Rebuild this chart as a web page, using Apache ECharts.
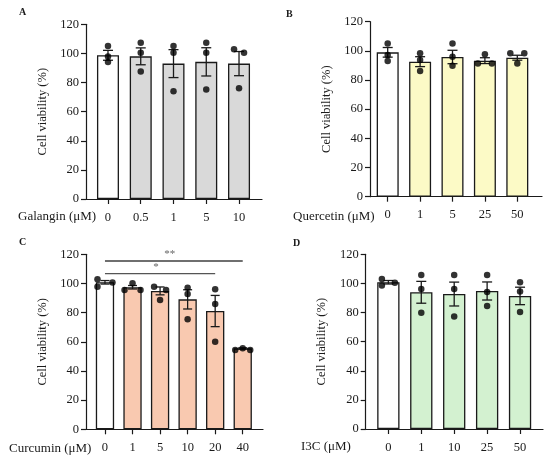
<!DOCTYPE html>
<html>
<head>
<meta charset="utf-8">
<title>Cell viability</title>
<script src="https://cdn.jsdelivr.net/npm/echarts@6/dist/echarts.min.js"></script>
<style>
html, body { margin: 0; padding: 0; background: #fff; }
#main { width: 550px; height: 465px; }
</style>
</head>
<body>
<div id="main"></div>
<script>
// A: Galangin
var galanginDoses = ['0', '0.5', '1', '5', '10'];
var galanginMean = [98.7, 98.0, 93.0, 94.2, 93.0];
var galanginSem = [3.4, 5.8, 9.6, 9.7, 8.3];
var galanginDots = [[105.1, 97.8, 94.1], [107.4, 100.5, 87.5], [105.1, 100.5, 74.0], [107.4, 100.5, 75.3], [102.8, 100.5, 76.0]];

// B: Quercetin
var quercetinDoses = ['0', '1', '5', '25', '50'];
var quercetinMean = [99.0, 92.6, 95.8, 93.3, 95.3];
var quercetinSem = [3.3, 3.4, 4.6, 2.0, 1.7];
var quercetinDots = [[105.1, 97.1, 93.0], [98.3, 93.7, 86.2], [105.1, 96.0, 89.8], [97.6, 91.4, 91.4], [98.3, 98.3, 91.4]];

// C: Curcumin
var curcuminDoses = ['0', '1', '5', '10', '20', '40'];
var curcuminMean = [100.8, 97.4, 94.9, 89.1, 81.1, 55.5];
var curcuminSem = [1.2, 1.2, 2.7, 6.6, 10.7, 0.4];
var curcuminDots = [[102.9, 97.8, 100.6], [100.1, 95.5, 95.5], [97.8, 95.5, 88.7], [97.1, 92.8, 75.4], [96.0, 86.0, 60.1], [54.4, 55.5, 54.4]];
var curcuminSigFrom = [0, 0];
var curcuminSigTo = [5, 4];
var curcuminSigY = [115.4, 106.7];
var curcuminSigText = ['**', '*'];

// D: I3C
var i3cDoses = ['0', '1', '10', '25', '50'];
var i3cMean = [100.8, 93.9, 92.7, 94.8, 91.4];
var i3cSem = [1.2, 7.5, 8.2, 6.2, 6.0];
var i3cDots = [[103.0, 98.5, 100.5], [105.8, 96.2, 79.9], [105.8, 96.2, 77.2], [105.8, 94.1, 84.5], [100.8, 94.4, 80.4]];

var yMin = 0, yMax = 120, yStep = 20;

// horizontal spread of overlapping dots (px)
var galanginJitter = [[0, 0, 0], [0, 0, 0], [0, 0, 0], [0, 0, 0], [-5, 5, 0]];
var quercetinJitter = [[0, 0, 0], [0, 0, 0], [0, 0, 0], [0, -7, 7], [-7, 7, 0]];
var curcuminJitter = [[-7.5, -7.5, 7.5], [0, -8, 8], [-6, 6, 0], [0, 0, 0], [0, 0, 0], [-7.5, 0, 7.5]];
var i3cJitter = [[-6.5, -6.5, 6.5], [0, 0, 0], [0, 0, 0], [0, 0, 0], [0, 0, 0]];

var FONT = "'Liberation Serif', 'DejaVu Serif', serif";
var INK = '#1a1a1a';

var panels = [
  { letter: 'A', lx: 19, ly: 13, xname: 'Galangin (\u03bcM)', nx: 18, ny: 218,
    frame: { left: 86, top: 24.3, width: 176, height: 174.7 },
    data: { left: 91.6, width: 163.8 }, barW: 22, cap: 10, fill: '#d9d9d9',
    doses: galanginDoses, mean: galanginMean, sem: galanginSem, dots: galanginDots, jitter: galanginJitter },
  { letter: 'B', lx: 286, ly: 15, xname: 'Quercetin (\u03bcM)', nx: 293, ny: 218,
    frame: { left: 370, top: 21.7, width: 172, height: 175 },
    data: { left: 371.5, width: 162 }, barW: 22, cap: 10, fill: '#fcfac6',
    doses: quercetinDoses, mean: quercetinMean, sem: quercetinSem, dots: quercetinDots, jitter: quercetinJitter },
  { letter: 'C', lx: 19, ly: 243, xname: 'Curcumin (\u03bcM)', nx: 9, ny: 450,
    frame: { left: 86, top: 254.3, width: 177, height: 175 },
    data: { left: 91.2, width: 165.3 }, barW: 18.3, cap: 9, fill: '#f9c9b0',
    doses: curcuminDoses, mean: curcuminMean, sem: curcuminSem, dots: curcuminDots, jitter: curcuminJitter,
    sig: true },
  { letter: 'D', lx: 293, ly: 244, xname: 'I3C (\u03bcM)', nx: 301, ny: 448,
    frame: { left: 365.7, top: 254.3, width: 177.3, height: 174.7 },
    data: { left: 371.9, width: 164.6 }, barW: 22.3, cap: 10, fill: '#d3f1d0',
    doses: i3cDoses, mean: i3cMean, sem: i3cSem, dots: i3cDots, jitter: i3cJitter }
];

var grid = [], xAxis = [], yAxis = [], series = [], graphic = [];

// 误差线 mean ± SEM
function errorBars(cap) {
  return function (params, api) {
    var x = api.value(0);
    var lo = api.coord([x, api.value(1)]);
    var hi = api.coord([x, api.value(2)]);
    var st = { stroke: INK, lineWidth: 1.3 };
    return { type: 'group', children: [
      { type: 'line', shape: { x1: lo[0], y1: lo[1], x2: hi[0], y2: hi[1] }, style: st },
      { type: 'line', shape: { x1: hi[0] - cap / 2, y1: hi[1], x2: hi[0] + cap / 2, y2: hi[1] }, style: st },
      { type: 'line', shape: { x1: lo[0] - cap / 2, y1: lo[1], x2: lo[0] + cap / 2, y2: lo[1] }, style: st }
    ] };
  };
}

// 显著性标记
function sigRender(params, api) {
  var i = params.dataIndex;
  var a = api.coord([api.value(0), api.value(2)]);
  var b = api.coord([api.value(1), api.value(2)]);
  var bold = curcuminSigText[i].length > 1;
  return { type: 'group', children: [
    { type: 'line', shape: { x1: a[0], y1: a[1], x2: b[0], y2: b[1] },
      style: { stroke: bold ? '#6f6f6f' : '#555', lineWidth: bold ? 2 : 1.3 } },
    { type: 'text', x: (a[0] + b[0]) / 2 - 4, y: a[1] - 1,
      style: { text: curcuminSigText[i], align: 'center', verticalAlign: 'bottom',
               fill: '#666', font: '11px ' + FONT } }
  ] };
}

panels.forEach(function (p) {
  var fi = grid.length;
  // frame grid: axis lines + y ticks
  grid.push({ left: p.frame.left, top: p.frame.top, width: p.frame.width, height: p.frame.height });
  xAxis.push({ gridIndex: fi, type: 'value', min: 0, max: 1,
    axisLine: { show: true, onZero: false, lineStyle: { color: INK, width: 1.2 } },
    axisTick: { show: false }, axisLabel: { show: false }, splitLine: { show: false } });
  yAxis.push({ gridIndex: fi, type: 'value', min: yMin, max: yMax, interval: yStep,
    name: 'Cell viability (%)', nameLocation: 'middle', nameGap: 37,
    nameTextStyle: { fontFamily: FONT, fontSize: 12.5, color: INK },
    axisLine: { show: true, lineStyle: { color: INK, width: 1.2 } },
    axisTick: { show: true, length: 5, lineStyle: { color: INK, width: 1.2 } },
    axisLabel: { margin: 7, fontFamily: FONT, fontSize: 12.5, color: INK },
    splitLine: { show: false } });

  // data grid
  var di = grid.length;
  grid.push({ left: p.data.left, top: p.frame.top, width: p.data.width, height: p.frame.height });
  xAxis.push({ gridIndex: di, type: 'category', data: p.doses,
    axisLine: { show: false },
    axisTick: { show: true, alignWithLabel: true, length: 5, lineStyle: { color: INK, width: 1.2 } },
    axisLabel: { margin: 12, fontFamily: FONT, fontSize: 12.5, color: INK } });
  yAxis.push({ gridIndex: di, type: 'value', min: yMin, max: yMax, show: false });

  var barData = p.mean.map(function (m, i) {
    return { value: m, itemStyle: { color: i === 0 ? '#ffffff' : p.fill } };
  });
  series.push({ type: 'bar', xAxisIndex: di, yAxisIndex: di, barWidth: p.barW, data: barData,
    itemStyle: { borderColor: INK, borderWidth: 1.3 }, z: 2, silent: true });

  var errData = p.mean.map(function (m, i) { return [i, m - p.sem[i], m + p.sem[i]]; });
  series.push({ type: 'custom', xAxisIndex: di, yAxisIndex: di, data: errData,
    encode: { x: 0, y: [1, 2] }, renderItem: errorBars(p.cap), z: 3, silent: true });

  var dotData = [];
  p.dots.forEach(function (vals, i) {
    vals.forEach(function (v, k) {
      dotData.push({ value: [i, v], symbolOffset: [p.jitter[i][k], 0] });
    });
  });
  series.push({ type: 'scatter', xAxisIndex: di, yAxisIndex: di, data: dotData,
    symbol: 'circle', symbolSize: 6.5, itemStyle: { color: '#000' }, z: 4, silent: true });

  if (p.sig) {
    var sigData = curcuminSigFrom.map(function (f, i) { return [f, curcuminSigTo[i], curcuminSigY[i]]; });
    series.push({ type: 'custom', xAxisIndex: di, yAxisIndex: di, data: sigData,
      encode: { x: [0, 1], y: 2 }, renderItem: sigRender, z: 5, silent: true });
  }

  graphic.push({ type: 'text', left: p.lx, top: p.ly - 6,
    style: { text: p.letter, font: 'bold 10px ' + FONT, fill: INK } });
  graphic.push({ type: 'text', left: p.nx, top: p.ny - 8,
    style: { text: p.xname, font: '13px ' + FONT, fill: INK } });
});

var myChart = echarts.init(document.getElementById('main'));
myChart.setOption({
  animation: false,
  backgroundColor: '#fff',
  grid: grid, xAxis: xAxis, yAxis: yAxis, series: series, graphic: graphic
});
</script>
</body>
</html>
